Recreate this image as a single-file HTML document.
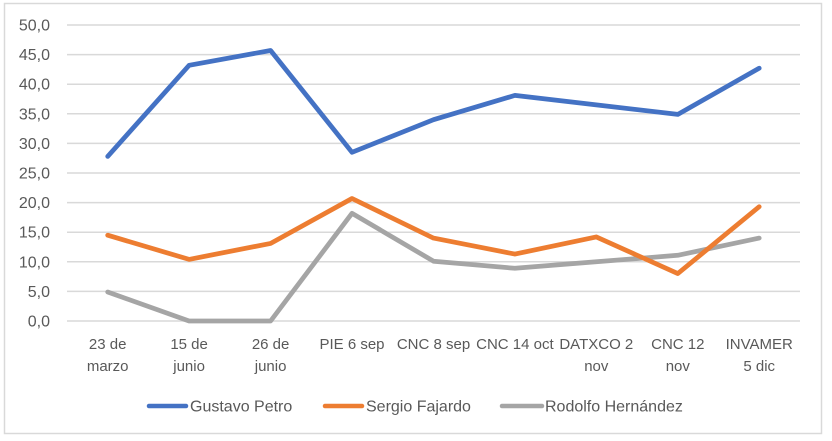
<!DOCTYPE html>
<html><head><meta charset="utf-8"><style>
html,body{margin:0;padding:0;background:#fff;}
svg{display:block;}
text{font-family:"Liberation Sans",Arial,sans-serif;font-size:15px;fill:#595959;}
.y{font-size:16px;}
.lg{font-size:16px;}
</style></head><body>
<svg width="832" height="441" viewBox="0 0 832 441" xmlns="http://www.w3.org/2000/svg">
<rect x="0" y="0" width="832" height="441" fill="#fff"/>
<rect x="4.5" y="3.5" width="817" height="430" fill="#fff" stroke="#d9d9d9" stroke-width="1.5"/>
<g stroke="#d9d9d9" stroke-width="1.5">
<line x1="67" x2="800" y1="25" y2="25"/>
<line x1="67" x2="800" y1="54.6" y2="54.6"/>
<line x1="67" x2="800" y1="84.2" y2="84.2"/>
<line x1="67" x2="800" y1="113.8" y2="113.8"/>
<line x1="67" x2="800" y1="143.4" y2="143.4"/>
<line x1="67" x2="800" y1="173" y2="173"/>
<line x1="67" x2="800" y1="202.6" y2="202.6"/>
<line x1="67" x2="800" y1="232.2" y2="232.2"/>
<line x1="67" x2="800" y1="261.8" y2="261.8"/>
<line x1="67" x2="800" y1="291.4" y2="291.4"/>
<line x1="67" x2="800" y1="321" y2="321"/>
</g>
<g text-anchor="end" class="y">
<text class="y" x="50" y="30.5">50,0</text>
<text class="y" x="50" y="60.1">45,0</text>
<text class="y" x="50" y="89.7">40,0</text>
<text class="y" x="50" y="119.3">35,0</text>
<text class="y" x="50" y="148.9">30,0</text>
<text class="y" x="50" y="178.5">25,0</text>
<text class="y" x="50" y="208.1">20,0</text>
<text class="y" x="50" y="237.7">15,0</text>
<text class="y" x="50" y="267.3">10,0</text>
<text class="y" x="50" y="296.9">5,0</text>
<text class="y" x="50" y="326.5">0,0</text>
</g>
<g text-anchor="middle">
<text x="107.7" y="349">23 de</text><text x="107.7" y="371">marzo</text>
<text x="189.1" y="349">15 de</text><text x="189.1" y="371">junio</text>
<text x="270.6" y="349">26 de</text><text x="270.6" y="371">junio</text>
<text x="352" y="349">PIE 6 sep</text>
<text x="433.5" y="349">CNC 8 sep</text>
<text x="514.9" y="349">CNC 14 oct</text>
<text x="596.3" y="349">DATXCO 2</text><text x="596.3" y="371">nov</text>
<text x="677.8" y="349">CNC 12</text><text x="677.8" y="371">nov</text>
<text x="759.2" y="349">INVAMER</text><text x="759.2" y="371">5 dic</text>
</g>
<g fill="none" stroke-width="4.75" stroke-linejoin="round" stroke-linecap="round">
<polyline stroke="#a5a5a5" points="107.7,292 189.1,321 270.6,321 352,213.3 433.5,261.2 514.9,268.3 596.3,261.8 677.8,255.3 759.2,238.1"/>
<polyline stroke="#ed7d31" points="107.7,235.2 189.1,259.4 270.6,243.4 352,198.5 433.5,238.1 514.9,254.1 596.3,236.9 677.8,273.6 759.2,206.7"/>
<polyline stroke="#4472c4" points="107.7,156.4 189.1,65.3 270.6,50.5 352,152.3 433.5,119.7 514.9,95.4 596.3,104.9 677.8,114.4 759.2,68.2"/>
</g>
<g stroke-width="4.5" stroke-linecap="round">
<line x1="149" x2="186" y1="406" y2="406" stroke="#4472c4"/>
<line x1="325" x2="362" y1="406" y2="406" stroke="#ed7d31"/>
<line x1="502" x2="542" y1="406" y2="406" stroke="#a5a5a5"/>
</g>
<text class="lg" x="190" y="411.5">Gustavo Petro</text>
<text class="lg" x="366" y="411.5">Sergio Fajardo</text>
<text class="lg" x="545" y="411.5">Rodolfo Hernández</text>
</svg>
</body></html>
